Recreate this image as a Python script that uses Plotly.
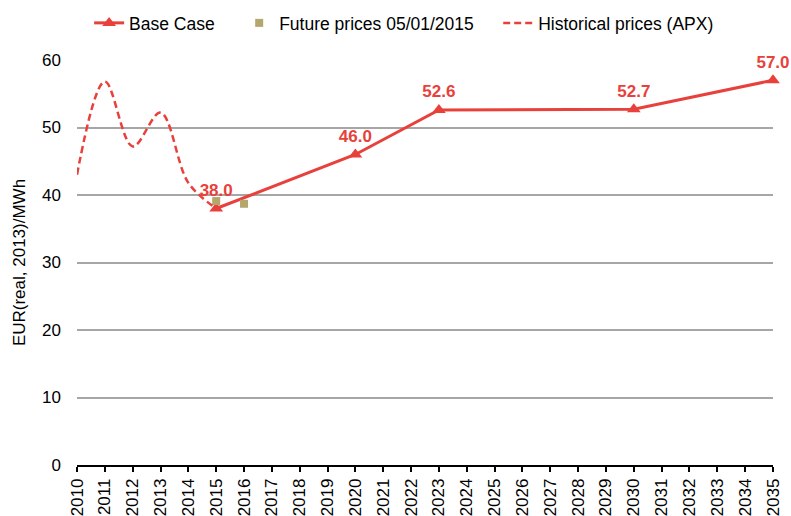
import plotly.graph_objects as go

years = list(range(2010, 2036))
base_years = [2015, 2020, 2023, 2030, 2035]
base_values = [38.0, 46.0, 52.6, 52.7, 57.0]
future_years = [2015, 2016]
future_values = [39.1, 38.7]
hist_years = [2010, 2011, 2012, 2013, 2014, 2015]
hist_values = [43.0, 56.8, 47.2, 52.2, 41.8, 38.0]

RED = "#E8413C"
TAN = "#B5A66C"
FONT = "Liberation Sans"
PAD = "\u00a0" * 4

fig = go.Figure()
fig.add_trace(go.Scatter(
    x=base_years, y=base_values, name="Base Case" + PAD, mode="lines+markers+text",
    line=dict(color=RED, width=3),
    marker=dict(symbol="triangle-up", size=12, color=RED),
    text=[f"{v:.1f}" for v in base_values], textposition="top center",
    textfont=dict(color=RED, size=17, family=FONT, weight="bold"),
    cliponaxis=False,
))
fig.add_trace(go.Scatter(
    x=future_years, y=future_values, name="Future prices 05/01/2015" + PAD, mode="markers",
    marker=dict(symbol="square", size=8, color=TAN), cliponaxis=False,
))
fig.add_trace(go.Scatter(
    x=hist_years, y=hist_values, name="Historical prices (APX)", mode="lines",
    line=dict(color=RED, width=2.5, dash="7px,4px", shape="spline", smoothing=1.0),
    cliponaxis=False,
))

fig.update_layout(
    width=791, height=516,
    margin=dict(l=77, r=18, t=60, b=51, autoexpand=False),
    paper_bgcolor="white", plot_bgcolor="white",
    font=dict(family=FONT, size=17, color="black"),
    showlegend=True,
    legend=dict(orientation="h", x=0.47, xanchor="center",
                yref="container", y=1 - 23 / 516, yanchor="middle",
                font=dict(size=17.5), itemwidth=30, bgcolor="rgba(0,0,0,0)"),
    xaxis=dict(range=[2010, 2035], tickmode="array", tickvals=years,
               ticktext=[str(y) for y in years], tickangle=-90,
               showgrid=False, showline=True, linecolor="black", linewidth=1.5,
               ticks="outside", ticklen=5, tickcolor="black", tickwidth=1.5,
               tickfont=dict(size=17), zeroline=False, automargin=False),
    yaxis=dict(range=[0, 60], tickvals=[0, 10, 20, 30, 40, 50, 60],
               showgrid=True, gridcolor="#A6A6A6", gridwidth=2,
               showline=False, zeroline=False, ticks="", tickfont=dict(size=17),
               ticklabelstandoff=15, automargin=False,
               title=dict(text="EUR(real, 2013)/MWh", font=dict(size=17), standoff=12)),
)
fig.write_html("out.html", config={"displayModeBar": False},
               post_script="document.body.style.margin='0';")
